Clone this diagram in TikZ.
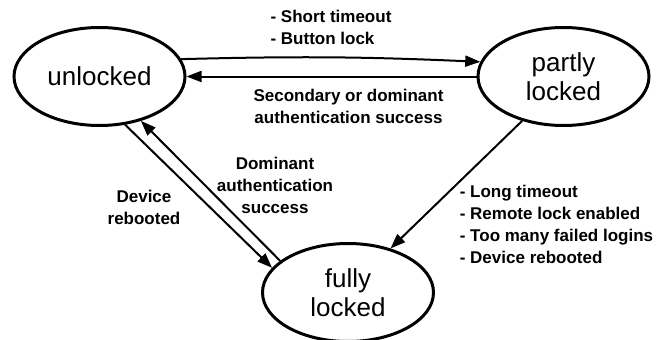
\documentclass[tikz,border=0pt]{standalone}
\usepackage{fontspec}
\setmainfont{Liberation Sans}
\usetikzlibrary{shapes.geometric,arrows.meta}
\begin{document}
\begin{tikzpicture}[x=1pt,y=-1pt,
  state/.style={draw, ellipse, line width=3pt, minimum width=171pt,
    minimum height=98pt, inner sep=0pt, align=center,
    font=\fontsize{26}{29}\selectfont},
  trans/.style={line width=2pt, -{Triangle[length=15pt,width=11pt]}},
  lbl/.style={font=\bfseries\fontsize{17}{22}\selectfont, inner sep=0pt}]
\useasboundingbox (0,0) rectangle (665,340);
\clip (0,0) rectangle (665,340);

% lock states
\node[state] (u) at (99.5,76.5) {unlocked};
\node[state] (p) at (563.5,76.5) {partly\\locked};
\node[state] (f) at (348,292.5) {fully\\locked};

% transitions
\draw[trans] (u.12) to[bend left=2] (p.170);
\draw[trans] (p.west) -- (u.east);
\draw[trans] (u.-62) -- (f.162);
\draw[trans] (f.155) -- (u.-47);
\draw[trans] (p.-133) -- (f.46);

% transition conditions
\node[lbl, align=left] (lock) at (331,27.5) {- Short timeout\\- Button lock};
\node[lbl, align=center] (auth) at (348.5,106) {Secondary or dominant\\authentication success};
\node[lbl, align=center] (dom) at (275,185) {Dominant\\authentication\\success};
\node[lbl, align=center] (boot) at (144,207.5) {Device\\rebooted};
\node[lbl, align=left] (full) at (556.5,224.6) {- Long timeout\\- Remote lock enabled\\- Too many failed logins\\- Device rebooted};
\end{tikzpicture}
\end{document}
